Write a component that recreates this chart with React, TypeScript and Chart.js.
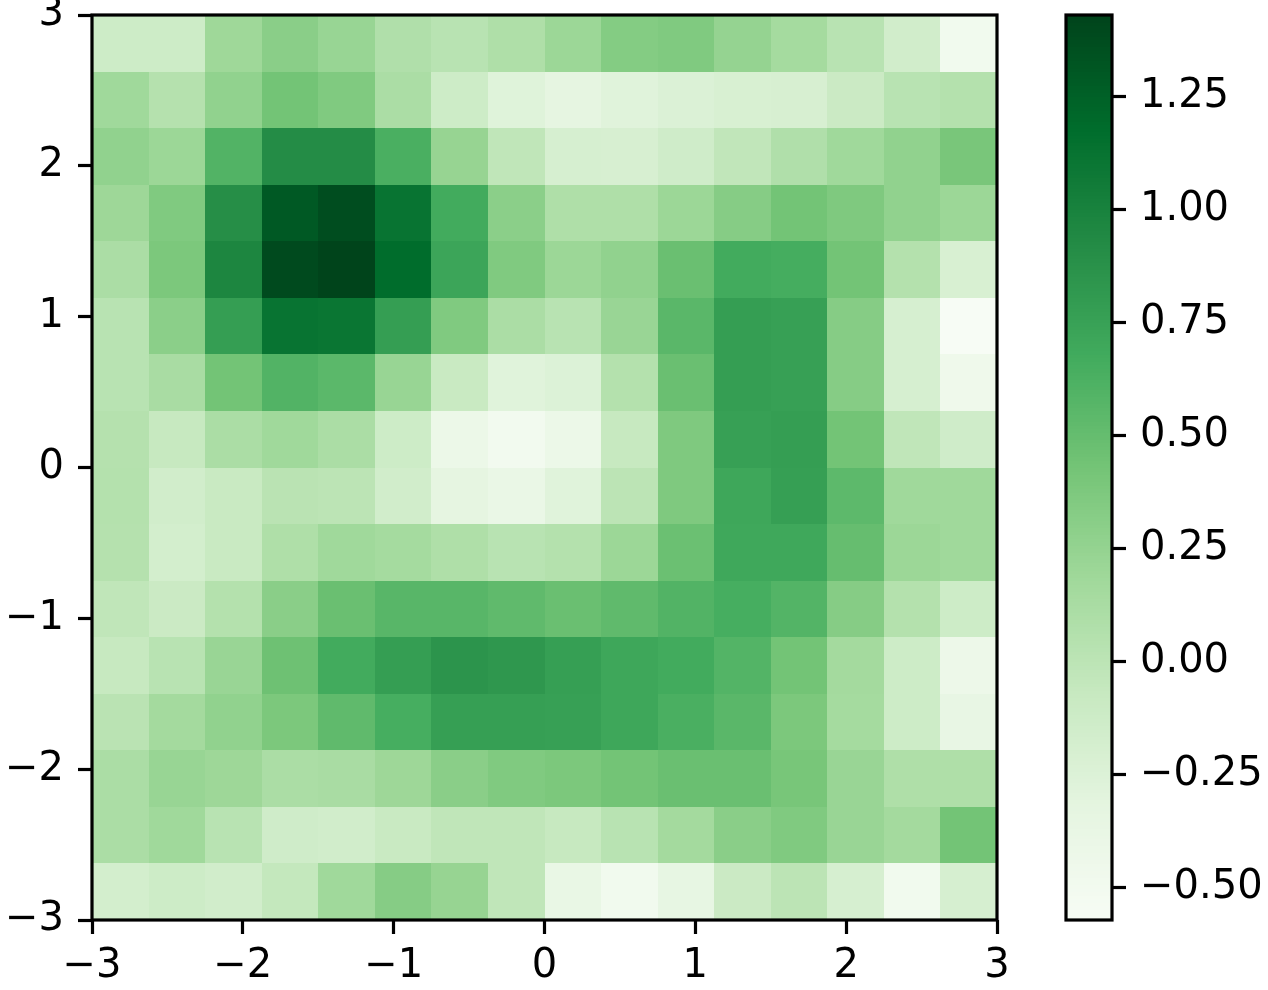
import React, { useEffect, useRef } from "react";
import { Chart, registerables } from "chart.js";

Chart.register(...registerables);

// Heatmap extent and data (rows listed from top, y = 3, to bottom, y = -3)
const xExtent = [-3, 3];
const yExtent = [-3, 3];
const zRows: number[][] = [
  [-0.12, -0.12, 0.19, 0.31, 0.23, 0.08, 0.03, 0.09, 0.21, 0.34, 0.36, 0.25, 0.15, 0.03, -0.15, -0.48],
  [0.18, 0.05, 0.27, 0.43, 0.36, 0.11, -0.12, -0.27, -0.33, -0.28, -0.24, -0.21, -0.2, -0.1, 0.03, 0.06],
  [0.27, 0.21, 0.6, 0.92, 0.92, 0.64, 0.24, -0.02, -0.19, -0.2, -0.14, -0.03, 0.08, 0.18, 0.27, 0.4],
  [0.2, 0.36, 0.9, 1.3, 1.37, 1.12, 0.68, 0.3, 0.09, 0.09, 0.21, 0.33, 0.43, 0.37, 0.27, 0.21],
  [0.11, 0.39, 0.97, 1.39, 1.431, 1.18, 0.72, 0.36, 0.21, 0.27, 0.48, 0.68, 0.66, 0.43, 0.06, -0.21],
  [0.03, 0.3, 0.78, 1.12, 1.11, 0.78, 0.36, 0.11, 0.03, 0.22, 0.56, 0.78, 0.76, 0.33, -0.19, -0.571],
  [0.03, 0.13, 0.43, 0.6, 0.55, 0.23, -0.08, -0.28, -0.25, 0.06, 0.48, 0.78, 0.76, 0.33, -0.19, -0.45],
  [0.05, -0.07, 0.11, 0.18, 0.11, -0.12, -0.42, -0.5, -0.42, -0.07, 0.37, 0.76, 0.78, 0.43, -0.02, -0.14],
  [0.06, -0.15, -0.08, 0.02, 0.0, -0.15, -0.33, -0.39, -0.28, 0.0, 0.37, 0.71, 0.77, 0.54, 0.18, 0.18],
  [0.05, -0.17, -0.08, 0.09, 0.18, 0.15, 0.09, 0.03, 0.06, 0.21, 0.47, 0.7, 0.7, 0.5, 0.21, 0.18],
  [-0.02, -0.1, 0.06, 0.31, 0.48, 0.57, 0.57, 0.53, 0.48, 0.53, 0.6, 0.65, 0.59, 0.33, 0.06, -0.12],
  [-0.07, 0.03, 0.22, 0.46, 0.68, 0.78, 0.86, 0.83, 0.77, 0.71, 0.68, 0.59, 0.43, 0.16, -0.12, -0.43],
  [0.02, 0.16, 0.27, 0.39, 0.53, 0.65, 0.77, 0.77, 0.76, 0.71, 0.64, 0.56, 0.39, 0.15, -0.12, -0.36],
  [0.11, 0.23, 0.2, 0.11, 0.13, 0.2, 0.31, 0.36, 0.39, 0.43, 0.48, 0.48, 0.41, 0.22, 0.09, 0.09],
  [0.11, 0.18, 0.03, -0.14, -0.15, -0.08, -0.02, -0.02, -0.07, 0.03, 0.16, 0.31, 0.36, 0.22, 0.16, 0.43],
  [-0.17, -0.12, -0.15, -0.05, 0.18, 0.33, 0.24, -0.02, -0.37, -0.48, -0.35, -0.1, 0.0, -0.19, -0.48, -0.19],
];

const axisTickValues = [-3, -2, -1, 0, 1, 2, 3];
const axisTickLabels = ["\u22123", "\u22122", "\u22121", "0", "1", "2", "3"];

const vmin = -0.571;
const vmax = 1.431;
const cbTickValues = [-0.5, -0.25, 0, 0.25, 0.5, 0.75, 1.0, 1.25];
const cbTickLabels = ["\u22120.50", "\u22120.25", "0.00", "0.25", "0.50", "0.75", "1.00", "1.25"];

const GREENS = [
  [247, 252, 245],
  [229, 245, 224],
  [199, 233, 192],
  [161, 217, 155],
  [116, 196, 118],
  [65, 171, 93],
  [35, 139, 69],
  [0, 109, 44],
  [0, 68, 27],
];

function greens(t: number): string {
  const tt = Math.max(0, Math.min(1, t));
  const s = tt * 8;
  const i = Math.min(7, Math.floor(s));
  const f = s - i;
  const a = GREENS[i];
  const b = GREENS[i + 1];
  const c = a.map((v, k) => Math.round(v + (b[k] - v) * f));
  return `rgb(${c[0]},${c[1]},${c[2]})`;
}

function colorFor(v: number): string {
  const t = (v - vmin) / (vmax - vmin);
  const idx = Math.max(0, Math.min(255, Math.floor(t * 256)));
  return greens(idx / 255);
}

const FONT = { family: "DejaVu Sans", size: 40 };
const LW = 3.2;
const TICK_LEN = 14;

const heatmapPlugin = {
  id: "heatmapCells",
  beforeDatasetsDraw(chart: any) {
    const { ctx } = chart;
    const xs = chart.scales.x;
    const ys = chart.scales.y;
    const nRows = zRows.length;
    const nCols = zRows[0].length;
    const dx = (xExtent[1] - xExtent[0]) / nCols;
    const dy = (yExtent[1] - yExtent[0]) / nRows;
    ctx.save();
    for (let r = 0; r < nRows; r++) {
      for (let c = 0; c < nCols; c++) {
        const x0 = Math.round(xs.getPixelForValue(xExtent[0] + c * dx));
        const x1 = Math.round(xs.getPixelForValue(xExtent[0] + (c + 1) * dx));
        const y0 = Math.round(ys.getPixelForValue(yExtent[1] - r * dy));
        const y1 = Math.round(ys.getPixelForValue(yExtent[1] - (r + 1) * dy));
        ctx.fillStyle = colorFor(zRows[r][c]);
        ctx.fillRect(x0, y0, x1 - x0, y1 - y0);
      }
    }
    ctx.restore();
  },
  afterDraw(chart: any) {
    const { ctx, chartArea } = chart;
    ctx.save();
    ctx.strokeStyle = "#000";
    ctx.lineWidth = LW;
    ctx.strokeRect(chartArea.left, chartArea.top, chartArea.right - chartArea.left, chartArea.bottom - chartArea.top);
    ctx.restore();
  },
};

const colorbarPlugin = {
  id: "colorbarFill",
  beforeDatasetsDraw(chart: any) {
    const { ctx, chartArea } = chart;
    const ys = chart.scales.y;
    const n = 256;
    ctx.save();
    for (let i = 0; i < n; i++) {
      const v0 = vmin + (i / n) * (vmax - vmin);
      const v1 = vmin + ((i + 1) / n) * (vmax - vmin);
      const yA = ys.getPixelForValue(v0);
      const yB = ys.getPixelForValue(v1);
      ctx.fillStyle = greens(i / (n - 1));
      ctx.fillRect(chartArea.left, Math.floor(yB), chartArea.right - chartArea.left, Math.ceil(yA) - Math.floor(yB));
    }
    ctx.strokeStyle = "#000";
    ctx.lineWidth = LW;
    ctx.strokeRect(chartArea.left, chartArea.top, chartArea.right - chartArea.left, chartArea.bottom - chartArea.top);
    ctx.restore();
  },
};

function zeroPad(s: any) {
  s.paddingTop = 0;
  s.paddingBottom = 0;
  s.paddingLeft = 0;
  s.paddingRight = 0;
}

function tickScale(values: number[], labels: string[], pad: number, extra: any) {
  return {
    type: "linear",
    afterBuildTicks: (s: any) => {
      s.ticks = values.map((v) => ({ value: v }));
    },
    grid: {
      drawOnChartArea: false,
      drawTicks: true,
      tickLength: TICK_LEN,
      tickWidth: LW,
      tickColor: "#000",
    },
    border: { display: false },
    ticks: {
      color: "#000",
      font: FONT,
      padding: pad,
      autoSkip: false,
      maxRotation: 0,
      minRotation: 0,
      callback: (v: number) => {
        const i = values.findIndex((t) => Math.abs(t - v) < 1e-9);
        return i >= 0 ? labels[i] : "";
      },
    },
    ...extra,
  };
}

export default function App() {
  const heatRef = useRef<HTMLCanvasElement | null>(null);
  const cbRef = useRef<HTMLCanvasElement | null>(null);

  useEffect(() => {
    Chart.defaults.font.family = "DejaVu Sans";
    const heat = new Chart(heatRef.current as HTMLCanvasElement, {
      type: "scatter",
      data: { datasets: [{ data: [] }] },
      options: {
        responsive: false,
        animation: false,
        devicePixelRatio: 1,
        layout: { padding: { left: 0, top: 15, right: 271, bottom: 0 } },
        plugins: { legend: { display: false }, tooltip: { enabled: false } },
        scales: {
          x: tickScale(axisTickValues, axisTickLabels, 9, {
            min: xExtent[0],
            max: xExtent[1],
            position: "bottom",
            afterFit: (s: any) => {
              s.height = 70;
              zeroPad(s);
            },
          }),
          y: tickScale(axisTickValues, axisTickLabels, 14, {
            min: yExtent[0],
            max: yExtent[1],
            position: "left",
            afterFit: (s: any) => {
              s.width = 92;
              zeroPad(s);
            },
          }),
        },
      } as any,
      plugins: [heatmapPlugin],
    });

    const cb = new Chart(cbRef.current as HTMLCanvasElement, {
      type: "scatter",
      data: { datasets: [{ data: [] }] },
      options: {
        responsive: false,
        animation: false,
        devicePixelRatio: 1,
        layout: { padding: { left: 1066, top: 15, right: 0, bottom: 70 } },
        plugins: { legend: { display: false }, tooltip: { enabled: false } },
        scales: {
          x: { type: "linear", display: false, min: 0, max: 1 },
          y: tickScale(cbTickValues, cbTickLabels, 14, {
            min: vmin,
            max: vmax,
            position: "right",
            afterFit: (s: any) => {
              s.width = 156;
              zeroPad(s);
            },
          }),
        },
      } as any,
      plugins: [colorbarPlugin],
    });

    return () => {
      heat.destroy();
      cb.destroy();
    };
  }, []);

  const canvasStyle: React.CSSProperties = { position: "absolute", left: 0, top: 0 };
  return (
    <div style={{ position: "absolute", left: 0, top: 0, width: 1268, height: 990, background: "#fff" }}>
      <canvas ref={heatRef} width={1268} height={990} style={canvasStyle} />
      <canvas ref={cbRef} width={1268} height={990} style={canvasStyle} />
    </div>
  );
}
